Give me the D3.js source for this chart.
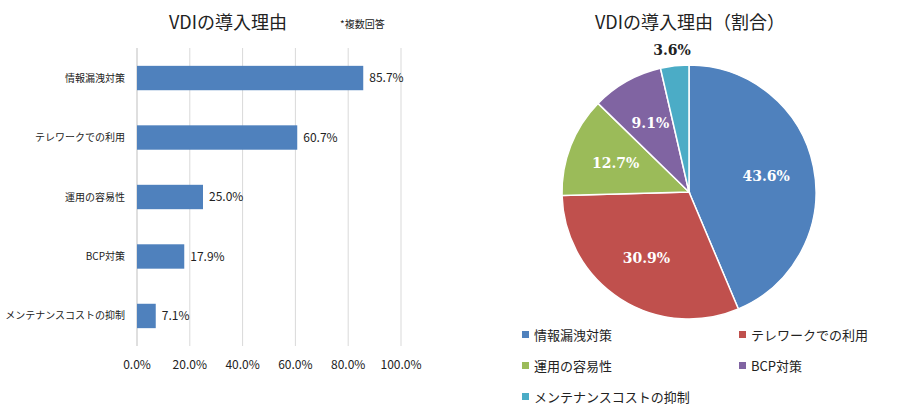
<!DOCTYPE html>
<html><head><meta charset="utf-8">
<script src="https://cdn.jsdelivr.net/npm/d3@7"></script>
<style>body{margin:0;background:#fff}</style>
</head><body><div id="chart"></div>
<script>
// data
const barCats = ['情報漏洩対策', 'テレワークでの利用', '運用の容易性', 'BCP対策', 'メンテナンスコストの抑制'];
const barVals = [85.7, 60.7, 25.0, 17.9, 7.1];
const xTicks = [0, 20, 40, 60, 80, 100];
const pieCats = ['情報漏洩対策', 'テレワークでの利用', '運用の容易性', 'BCP対策', 'メンテナンスコストの抑制'];
const pieVals = [43.6, 30.9, 12.7, 9.1, 3.6];
const pieColors = ['#4F81BD', '#C0504D', '#9BBB59', '#8064A2', '#4BACC6'];

const font = "'Noto Sans CJK JP', 'Noto Sans', sans-serif";
const textFill = '#222';

const svg = d3.select('#chart').append('svg')
  .attr('width', 899).attr('height', 410)
  .style('font-family', font);

// --- bar chart ---
svg.append('text').text('VDIの導入理由')
  .attr('x', 228).attr('y', 29).attr('text-anchor', 'middle')
  .attr('font-size', 18).attr('fill', textFill);
svg.append('text').text('*複数回答')
  .attr('x', 340).attr('y', 28)
  .attr('font-size', 10).attr('fill', textFill);

const x = d3.scaleLinear().domain([0, 100]).range([137, 401]);
const y = d3.scaleBand().domain(barCats).range([48, 346]).paddingInner(0.59).paddingOuter(0.3);

const g = svg.append('g');
g.selectAll('line.grid').data(xTicks.slice(1)).join('line')
  .attr('x1', d => x(d)).attr('x2', d => x(d))
  .attr('y1', 48).attr('y2', 346)
  .attr('stroke', '#d9d9d9');
g.append('line').attr('x1', x(0)).attr('x2', x(0)).attr('y1', 48).attr('y2', 346)
  .attr('stroke', '#bfbfbf');

g.selectAll('rect').data(barVals).join('rect')
  .attr('x', x(0)).attr('y', (d, i) => y(barCats[i]))
  .attr('width', d => x(d) - x(0)).attr('height', y.bandwidth())
  .attr('fill', '#4F81BD');
g.selectAll('text.val').data(barVals).join('text')
  .attr('x', d => x(d) + 6).attr('y', (d, i) => y(barCats[i]) + y.bandwidth() / 2)
  .attr('dy', '0.35em').attr('font-size', 12).attr('fill', textFill)
  .text(d => d.toFixed(1) + '%');
g.selectAll('text.cat').data(barCats).join('text')
  .attr('x', 125).attr('y', d => y(d) + y.bandwidth() / 2)
  .attr('dy', '0.35em').attr('text-anchor', 'end')
  .attr('font-size', 10).attr('fill', textFill).text(d => d);
g.selectAll('text.tick').data(xTicks).join('text')
  .attr('x', d => x(d)).attr('y', 369).attr('text-anchor', 'middle')
  .attr('font-size', 12).attr('fill', textFill).text(d => d.toFixed(1) + '%');

// --- pie chart ---
svg.append('text').text('VDIの導入理由（割合）')
  .attr('x', 690).attr('y', 29).attr('text-anchor', 'middle')
  .attr('font-size', 18).attr('fill', textFill);

const cx = 689, cy = 192, r = 127;
const pie = d3.pie().sort(null)(pieVals);
const arc = d3.arc().innerRadius(0).outerRadius(r);
const labelArc = d3.arc().innerRadius(r * 0.62).outerRadius(r * 0.62);
const pg = svg.append('g').attr('transform', `translate(${cx},${cy})`);
pg.selectAll('path').data(pie).join('path')
  .attr('d', arc).attr('fill', (d, i) => pieColors[i])
  .attr('stroke', '#fff').attr('stroke-width', 1.5);
pg.selectAll('text').data(pie).join('text')
  .attr('transform', (d, i) => {
    if (i === 4) return `translate(${-17},${-142})`;
    const [a, b] = labelArc.centroid(d);
    return `translate(${a},${b})`;
  })
  .attr('text-anchor', 'middle').attr('dy', '0.35em')
  .attr('font-size', 14).attr('font-weight', 'bold')
  .attr('font-family', "'DejaVu Serif', serif")
  .attr('fill', (d, i) => i === 4 ? textFill : '#fff')
  .text(d => d.data.toFixed(1) + '%');

// legend
const lg = svg.append('g');
const legendPos = (i) => [i % 2 === 0 ? 522 : 739, 335 + Math.floor(i / 2) * 31];
pieCats.forEach((c, i) => {
  const [lx, ly] = legendPos(i);
  lg.append('rect').attr('x', lx).attr('y', ly - 4).attr('width', 7).attr('height', 7)
    .attr('fill', pieColors[i]);
  lg.append('text').attr('x', lx + 12).attr('y', ly).attr('dy', '0.35em')
    .attr('font-size', 13).attr('fill', textFill).text(c);
});
</script></body></html>
